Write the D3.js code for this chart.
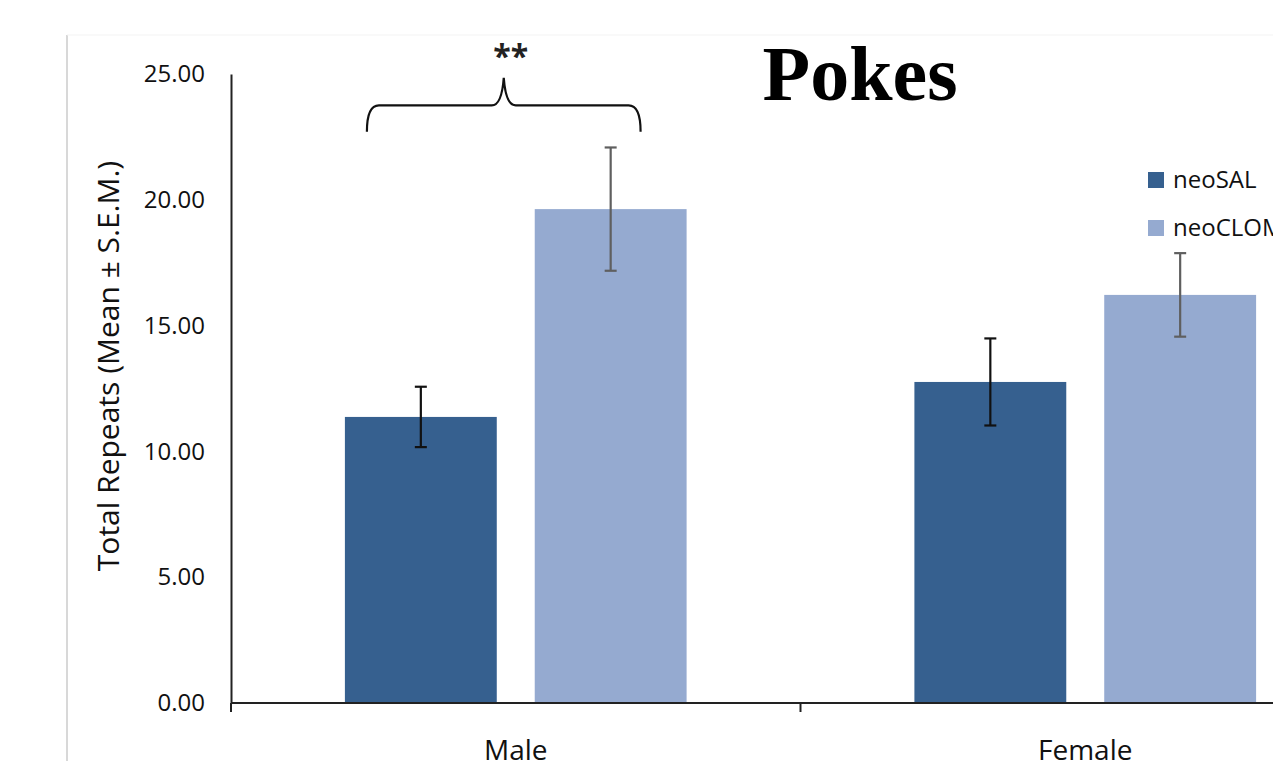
<!DOCTYPE html>
<html>
<head>
<meta charset="utf-8">
<script src="https://cdn.jsdelivr.net/npm/d3@7"></script>
<style>
  html, body { margin: 0; padding: 0; background: #fff; overflow: hidden; }
  svg { display: block; }
</style>
</head>
<body>
<svg id="chart" width="1273" height="761"></svg>
<script>
// Total repeats of pokes, mean with S.E.M., by sex and neonatal treatment
const categories = ["Male", "Female"];
const seriesNames = ["neoSAL", "neoCLOM"];
const neoSAL = [11.37, 12.76];
const neoSALsem = [1.2, 1.73];
const neoCLOM = [19.63, 16.22];
const neoCLOMsem = [2.45, 1.66];
const yTicks = [0, 5, 10, 15, 20, 25];
const colors = ["#36608f", "#95aad0"];
const errColors = ["#111111", "#5f5f5f"];

const svg = d3.select("#chart");
const font = "'Open Sans', 'DejaVu Sans', sans-serif";

// plot area
const x0 = 231, x1 = 1370, yBottom = 703, yTop = 74;

const y = d3.scaleLinear().domain([0, 25]).range([yBottom, yTop]);
const x = d3.scaleBand().domain(categories).range([x0, x1]).paddingInner(0).paddingOuter(0);
const xs = d3.scaleBand().domain(seriesNames).range([0, x.bandwidth()]).paddingInner(0.2).paddingOuter(0.6);

// faint frame lines
svg.append("line").attr("x1", 67).attr("x2", 67).attr("y1", 35).attr("y2", 761)
  .attr("stroke", "#d8d8d8").attr("stroke-width", 2);
svg.append("line").attr("x1", 67).attr("x2", 1273).attr("y1", 35).attr("y2", 35)
  .attr("stroke", "#f3f3f3").attr("stroke-width", 1);

// bars
const rows = categories.map((c, i) => ({
  cat: c,
  vals: [
    { s: seriesNames[0], v: neoSAL[i], e: neoSALsem[i], k: 0 },
    { s: seriesNames[1], v: neoCLOM[i], e: neoCLOMsem[i], k: 1 }
  ]
}));

const g = svg.append("g");
const grp = g.selectAll("g.cat").data(rows).join("g")
  .attr("transform", d => `translate(${x(d.cat)},0)`);

grp.selectAll("rect").data(d => d.vals).join("rect")
  .attr("x", d => xs(d.s))
  .attr("width", xs.bandwidth())
  .attr("y", d => y(d.v))
  .attr("height", d => y(0) - y(d.v))
  .attr("fill", d => colors[d.k]);

// error bars
const eb = grp.selectAll("g.err").data(d => d.vals).join("g")
  .attr("stroke", d => errColors[d.k]).attr("stroke-width", 2.2);
eb.append("line")
  .attr("x1", d => xs(d.s) + xs.bandwidth() / 2)
  .attr("x2", d => xs(d.s) + xs.bandwidth() / 2)
  .attr("y1", d => y(d.v + d.e)).attr("y2", d => y(d.v - d.e));
[1, -1].forEach(sgn => {
  eb.append("line")
    .attr("x1", d => xs(d.s) + xs.bandwidth() / 2 - 6)
    .attr("x2", d => xs(d.s) + xs.bandwidth() / 2 + 6)
    .attr("y1", d => y(d.v + sgn * d.e)).attr("y2", d => y(d.v + sgn * d.e));
});

// y axis
const yAxis = d3.axisLeft(y).tickValues(yTicks).tickFormat(d3.format(".2f")).tickSize(0).tickPadding(26);
const ya = svg.append("g").attr("transform", `translate(${x0},0)`).call(yAxis);
ya.select(".domain").attr("stroke", "#222").attr("stroke-width", 2);
ya.selectAll("text").attr("font-family", font).attr("font-size", 24).attr("fill", "#111");

// x axis with ticks at category boundaries
const xa = svg.append("g").attr("transform", `translate(0,${yBottom})`);
xa.append("line").attr("x1", x0).attr("x2", x1).attr("stroke", "#222").attr("stroke-width", 2);
const bounds = [x0].concat(categories.map(c => x(c) + x.bandwidth()));
xa.selectAll("line.tk").data(bounds).join("line").attr("class", "tk")
  .attr("x1", d => d).attr("x2", d => d).attr("y1", 0).attr("y2", 9)
  .attr("stroke", "#222").attr("stroke-width", 2);
xa.selectAll("text").data(categories).join("text")
  .attr("x", d => x(d) + x.bandwidth() / 2)
  .attr("y", 57)
  .attr("text-anchor", "middle")
  .attr("font-family", font).attr("font-size", 28).attr("fill", "#111")
  .text(d => d);

// y axis title
svg.append("text")
  .attr("transform", "translate(119,366) rotate(-90)")
  .attr("text-anchor", "middle")
  .attr("font-family", font).attr("font-size", 30).attr("fill", "#111")
  .text("Total Repeats (Mean ± S.E.M.)");

// chart title
svg.append("text")
  .attr("x", 860).attr("y", 100)
  .attr("text-anchor", "middle")
  .attr("font-family", "'Liberation Serif', 'Times New Roman', serif")
  .attr("font-weight", "bold").attr("font-size", 78).attr("fill", "#000")
  .text("Pokes");

// legend
const lg = svg.append("g").attr("transform", "translate(1148,0)");
seriesNames.forEach((s, i) => {
  const ly = 180 + i * 48;
  lg.append("rect").attr("x", 0).attr("y", ly - 8).attr("width", 16).attr("height", 16).attr("fill", colors[i]);
  lg.append("text").attr("x", 25).attr("y", ly + 8)
    .attr("font-family", font).attr("font-size", 24).attr("fill", "#111").text(s);
});

// significance brace over the male pair
const mx = x("Male");
const bl = mx + xs(seriesNames[0]) + 22;
const br = mx + xs(seriesNames[1]) + xs.bandwidth() - 46;
const bm = (bl + br) / 2;
const yEnd = y(22.7), yLine = y(23.75), yPeak = y(24.85);
const brace = d3.path();
brace.moveTo(bl, yEnd);
brace.quadraticCurveTo(bl, yLine, bl + 12, yLine);
brace.lineTo(bm - 12, yLine);
brace.quadraticCurveTo(bm - 2, yLine, bm, yPeak);
brace.quadraticCurveTo(bm + 2, yLine, bm + 12, yLine);
brace.lineTo(br - 12, yLine);
brace.quadraticCurveTo(br, yLine, br, yEnd);
svg.append("path").attr("d", brace.toString())
  .attr("fill", "none").attr("stroke", "#111").attr("stroke-width", 2.2);
svg.append("text").attr("x", bm + 7).attr("y", 68)
  .attr("text-anchor", "middle")
  .attr("font-family", font).attr("font-weight", "bold").attr("font-size", 32).attr("fill", "#222")
  .text("**");
</script>
</body>
</html>
